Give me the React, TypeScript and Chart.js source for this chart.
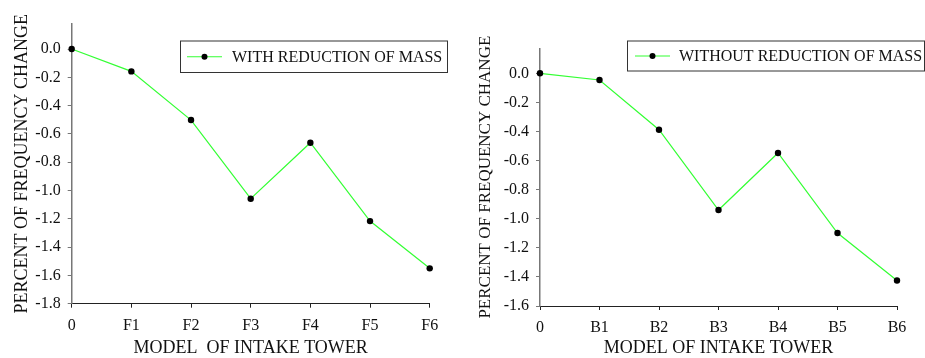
import React, { useEffect, useRef } from 'react';
import { Chart, registerables } from 'chart.js';

Chart.register(...registerables);

const leftCategories = ['0', 'F1', 'F2', 'F3', 'F4', 'F5', 'F6'];
const leftValues = [0, -0.158, -0.502, -1.058, -0.662, -1.216, -1.55];
const leftYTicks = [-1.8, -1.6, -1.4, -1.2, -1.0, -0.8, -0.6, -0.4, -0.2, 0.0];
const leftLegend = 'WITH REDUCTION OF MASS';
const leftXTitle = 'MODEL  OF INTAKE TOWER';

const rightCategories = ['0', 'B1', 'B2', 'B3', 'B4', 'B5', 'B6'];
const rightValues = [0, -0.046, -0.388, -0.94, -0.548, -1.098, -1.425];
const rightYTicks = [-1.6, -1.4, -1.2, -1.0, -0.8, -0.6, -0.4, -0.2, 0.0];
const rightLegend = 'WITHOUT REDUCTION OF MASS';
const rightXTitle = 'MODEL OF INTAKE TOWER';

const yTitle = 'PERCENT OF FREQUENCY CHANGE';

const FONT = '"Liberation Serif", "Times New Roman", serif';
const GREEN = '#33ff33';

type Spec = {
  categories: string[];
  values: number[];
  yTicks: number[];
  yMin: number;
  yMax: number;
  legend: string;
  xTitle: string;
  width: number;
  yWidth: number;
  xHeight: number;
  padTop: number;
  padRight: number;
  yTitleSize: number;
  yTitlePad: number;
  legendBox: { x: number; y: number; w: number; h: number; lineX1: number; lineX2: number; textX: number };
};

function buildConfig(s: Spec): any {
  const legendPlugin = {
    id: 'boxLegend',
    afterDraw(chart: any) {
      const ctx = chart.ctx as CanvasRenderingContext2D;
      const b = s.legendBox;
      ctx.save();
      ctx.fillStyle = '#ffffff';
      ctx.fillRect(b.x, b.y, b.w, b.h);
      ctx.strokeStyle = '#333333';
      ctx.lineWidth = 1;
      ctx.strokeRect(b.x + 0.5, b.y + 0.5, b.w - 1, b.h - 1);
      const cy = b.y + b.h / 2;
      ctx.strokeStyle = GREEN;
      ctx.lineWidth = 1.2;
      ctx.beginPath();
      ctx.moveTo(b.lineX1, cy);
      ctx.lineTo(b.lineX2, cy);
      ctx.stroke();
      ctx.fillStyle = '#000000';
      ctx.beginPath();
      ctx.arc((b.lineX1 + b.lineX2) / 2, cy, 3, 0, Math.PI * 2);
      ctx.fill();
      ctx.fillStyle = '#111111';
      ctx.font = `16px ${FONT}`;
      ctx.textBaseline = 'middle';
      ctx.textAlign = 'left';
      ctx.fillText(s.legend, b.textX, cy + 1);
      ctx.restore();
    },
  };

  return {
    type: 'line',
    data: {
      labels: s.categories,
      datasets: [
        {
          label: s.legend,
          data: s.values,
          borderColor: GREEN,
          borderWidth: 1.2,
          pointBackgroundColor: '#000000',
          pointBorderColor: '#000000',
          pointRadius: 3.2,
          pointBorderWidth: 0,
          tension: 0,
          fill: false,
          clip: false,
        },
      ],
    },
    options: {
      responsive: false,
      animation: false,
      devicePixelRatio: 1,
      layout: { padding: { top: s.padTop, right: s.padRight, left: 0, bottom: 0 } },
      plugins: {
        legend: { display: false },
        tooltip: { enabled: false },
        title: { display: false },
      },
      scales: {
        x: {
          type: 'category',
          offset: false,
          afterFit: (sc: any) => {
            sc.height = s.xHeight;
          },
          border: { display: true, color: '#222222', width: 1 },
          grid: { display: true, drawOnChartArea: false, drawTicks: true, tickLength: 4, color: '#222222' },
          ticks: { color: '#111111', padding: 8, font: { family: FONT, size: 16 }, maxRotation: 0 },
          title: {
            display: true,
            text: s.xTitle,
            color: '#111111',
            font: { family: FONT, size: 18 },
            padding: { top: 0, bottom: -1 },
          },
        },
        y: {
          type: 'linear',
          min: s.yMin,
          max: s.yMax,
          afterFit: (sc: any) => {
            sc.width = s.yWidth;
          },
          afterBuildTicks: (sc: any) => {
            sc.ticks = s.yTicks.map((v) => ({ value: v }));
          },
          border: { display: true, color: '#777777', width: 1.5 },
          grid: { display: true, drawOnChartArea: false, drawTicks: true, tickLength: 4, color: '#777777' },
          ticks: {
            color: '#111111',
            padding: 7,
            font: { family: FONT, size: 16 },
            callback: (v: any) => Number(v).toFixed(1),
          },
          title: {
            display: true,
            text: yTitle,
            color: '#111111',
            font: { family: FONT, size: s.yTitleSize },
            padding: { top: s.yTitlePad, bottom: 0 },
          },
        },
      },
    },
    plugins: [legendPlugin],
  };
}

const leftSpec: Spec = {
  categories: leftCategories,
  values: leftValues,
  yTicks: leftYTicks,
  yMin: -1.8,
  yMax: 0.177,
  legend: leftLegend,
  xTitle: leftXTitle,
  width: 470,
  yWidth: 71.7,
  xHeight: 54.3,
  padTop: 24,
  padRight: 40.3,
  yTitleSize: 18,
  yTitlePad: 11.5,
  legendBox: { x: 180, y: 40.5, w: 268, h: 32.5, lineX1: 187, lineX2: 222, textX: 232 },
};

const rightSpec: Spec = {
  categories: rightCategories,
  values: rightValues,
  yTicks: rightYTicks,
  yMin: -1.6,
  yMax: 0.172,
  legend: rightLegend,
  xTitle: rightXTitle,
  width: 455,
  yWidth: 70,
  xHeight: 52,
  padTop: 48.3,
  padRight: 28,
  yTitleSize: 17,
  yTitlePad: 5.5,
  legendBox: { x: 157, y: 40.5, w: 298, h: 31, lineX1: 165, lineX2: 200, textX: 209 },
};

function ChartCanvas({ spec, left }: { spec: Spec; left: number }) {
  const ref = useRef<HTMLCanvasElement | null>(null);
  useEffect(() => {
    if (!ref.current) return;
    const chart = new Chart(ref.current, buildConfig(spec));
    return () => chart.destroy();
  }, [spec]);
  return (
    <canvas
      ref={ref}
      width={spec.width}
      height={358}
      style={{ position: 'absolute', left, top: 0, width: spec.width, height: 358 }}
    />
  );
}

export default function App() {
  return (
    <div style={{ position: 'fixed', left: 0, top: 0, width: 925, height: 358, background: '#ffffff', overflow: 'hidden' }}>
      <ChartCanvas spec={leftSpec} left={0} />
      <ChartCanvas spec={rightSpec} left={470} />
    </div>
  );
}
